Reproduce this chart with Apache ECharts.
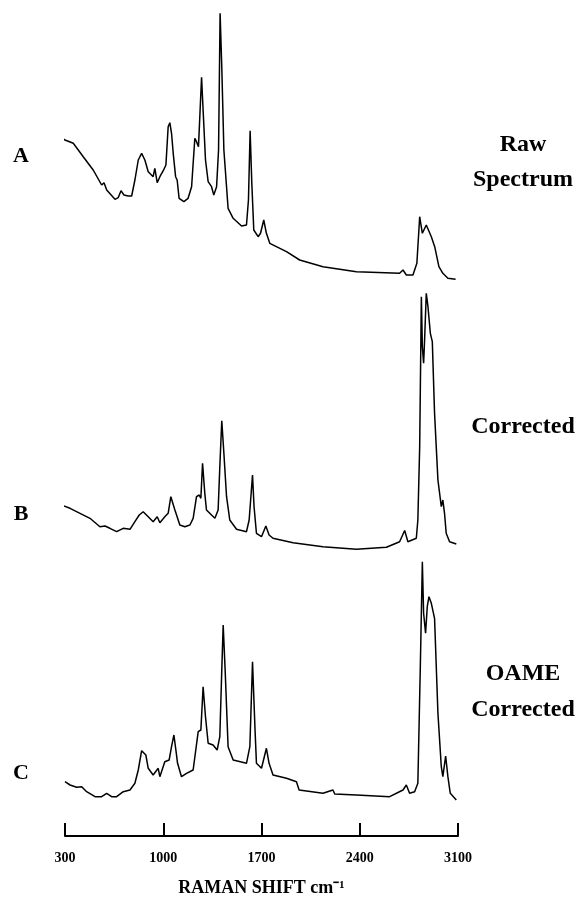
<!DOCTYPE html>
<html>
<head>
<meta charset="utf-8">
<script src="https://cdn.jsdelivr.net/npm/echarts@6/dist/echarts.min.js"></script>
<style>html,body{margin:0;padding:0;background:#fff;}#c{width:587px;height:905px;}</style>
</head>
<body>
<div id="c"></div>
<script>
// Raman shift (cm-1) and relative intensity (arbitrary units)
const waveA = [270,300,359,430,501,561,578,597,656,679,699,720,751,775,798,822,846,869,893,928,940,957,976,1000,1019,1035,1047,1059,1071,1088,1099,1113,1147,1177,1202,1225,1237,1251,1273,1284,1301,1320,1344,1360,1380,1394,1405,1417,1432,1462,1498,1558,1593,1607,1619,1631,1645,1676,1693,1716,1735,1759,1878,1972,2138,2376,2684,2708,2732,2779,2807,2827,2846,2874,2910,2934,2964,2992,3004,3028,3083];
const intA  = [152.7,150,146.7,133.3,120,105,107.3,100,90.7,92.3,99.3,95,94,94,110,130,136.7,130,118.3,113.3,121.7,107.3,113.3,119.3,125,163.3,167.3,156.7,136.7,113.3,110,91.7,88.3,91.7,103.3,151.7,148.3,143.3,212.7,180,130,108.3,103.3,95,103.3,140,276.7,223.3,140,81.7,71.7,64,65,90,159.3,106.7,60,53.3,56.7,70,56.7,46.7,38.3,30,23.3,18.3,16.7,20,15,15,26.7,73.3,56.7,65,53.3,43.3,23.3,16.7,17.3,11.7,10.7];

const waveB = [288,336,407,478,549,585,620,668,715,763,798,829,857,893,928,957,976,1011,1035,1054,1066,1083,1099,1118,1154,1190,1213,1237,1256,1268,1280,1296,1308,1344,1368,1391,1403,1417,1432,1451,1474,1522,1593,1612,1636,1647,1664,1700,1731,1754,1782,1925,2138,2376,2590,2684,2720,2743,2803,2814,2827,2839,2846,2855,2862,2874,2886,2903,2917,2933,2957,2981,2992,3004,3016,3040,3088];
const intB  = [54.3,51.7,46.7,41.7,33.3,34,31.7,28.3,31.7,30.7,38.3,45,48.3,43.3,38.3,43.3,37.3,43.3,46.7,63.3,65,50,43.3,35,33.3,35,41.7,63.3,65,61.7,96.7,66.7,50,45,41.7,50,93.3,139.3,106.7,63.3,40,30.7,28.3,40,85,53.3,26.7,23.3,34,25,21.7,17.3,13.3,10.7,12.7,18.3,29.5,18.3,21.7,40,113.3,263.3,213.3,196.7,220,266.7,253.3,226.7,218.3,146.7,80,53.3,60,46.7,26.7,18.3,16];

const waveC = [300,336,383,419,454,514,561,597,632,668,715,763,798,822,846,876,893,928,964,976,1011,1042,1059,1076,1090,1102,1113,1130,1166,1213,1249,1268,1284,1301,1320,1355,1384,1403,1417,1427,1441,1462,1498,1593,1617,1636,1654,1664,1700,1735,1754,1782,1878,1949,1968,2138,2209,2222,2376,2613,2708,2732,2755,2791,2814,2832,2846,2855,2869,2881,2893,2910,2933,2957,2981,2992,3012,3028,3045,3088];
const intC  = [54.3,51,48.7,49.3,44.3,39.3,39.3,42.7,39.3,39.3,44.3,46,52.7,66,85.3,81,67.7,61,67.7,59.3,74.3,76,89.3,101,86,72.7,74.3,59.3,62.7,66,104.3,106,149.3,119.3,92.7,91,86,99.3,166,211,166,89.3,76,72.7,89.3,174.3,106,72.7,67.7,87.7,72.7,61,57.7,54.3,46,42.7,46,42,41,39.3,46,51,42.7,44.3,52.7,172.7,274.3,222.7,202.7,229.3,239.3,232.7,217.7,122.7,69.3,59.3,80,59.3,42.7,36];

const tickLabels = [300, 1000, 1700, 2400, 3100];
const panelLetters = ['A', 'B', 'C'];
const panelTitles = [['Raw', 'Spectrum'], ['Corrected'], ['OAME', 'Corrected']];
const axisTitle = 'RAMAN SHIFT cm⁻¹';

const pair = (xs, ys) => xs.map((x, i) => [x, ys[i]]);

const chart = echarts.init(document.getElementById('c'), null, {renderer: 'canvas'});
const serif = 'Liberation Serif';
const gridDefs = [
  {left: 65, right: 129, top: 0, height: 290},
  {left: 65, right: 129, top: 290, height: 270},
  {left: 65, right: 129, top: 560, height: 276}
];
const xMin = tickLabels[0], xMax = tickLabels[tickLabels.length - 1], xStep = tickLabels[1] - tickLabels[0];

const xAxes = gridDefs.map((g, i) => ({
  type: 'value', gridIndex: i, min: xMin, max: xMax, interval: xStep,
  show: i === 2,
  splitLine: {show: false},
  axisLine: {show: true, onZero: false, lineStyle: {color: '#000', width: 2}},
  axisTick: {show: true, inside: true, length: 13, lineStyle: {color: '#000', width: 2}},
  axisLabel: {show: true, margin: 15, color: '#000', fontFamily: serif, fontWeight: 'bold', fontSize: 14,
    formatter: v => tickLabels.includes(v) ? String(v) : ''},
  name: i === 2 ? axisTitle : '', nameLocation: 'middle', nameGap: 43,
  nameTextStyle: {color: '#000', fontFamily: serif, fontWeight: 'bold', fontSize: 18}
}));
const yAxes = gridDefs.map((g, i) => ({type: 'value', gridIndex: i, min: 0, max: g.height, show: false}));

const data = [pair(waveA, intA), pair(waveB, intB), pair(waveC, intC)];
const series = data.map((d, i) => ({
  type: 'line', xAxisIndex: i, yAxisIndex: i, data: d, showSymbol: false, clip: false,
  lineStyle: {color: '#000', width: 1.5}, smooth: false
}));

const letterY = [156, 514, 773];
const titleY = [[145, 180], [427], [674, 710]];
const graphics = [];
panelLetters.forEach((L, i) => {
  graphics.push({type: 'text', x: 21, y: letterY[i], style: {text: L, font: 'bold 22px "' + serif + '"', fill: '#000', align: 'center', verticalAlign: 'middle'}});
  panelTitles[i].forEach((t, j) => {
    graphics.push({type: 'text', x: 523, y: titleY[i][j], style: {text: t, font: 'bold 24px "' + serif + '"', fill: '#000', align: 'center', verticalAlign: 'middle'}});
  });
});

chart.setOption({
  animation: false,
  backgroundColor: '#fff',
  grid: gridDefs,
  xAxis: xAxes,
  yAxis: yAxes,
  series: series,
  graphic: graphics
});
</script>
</body>
</html>
